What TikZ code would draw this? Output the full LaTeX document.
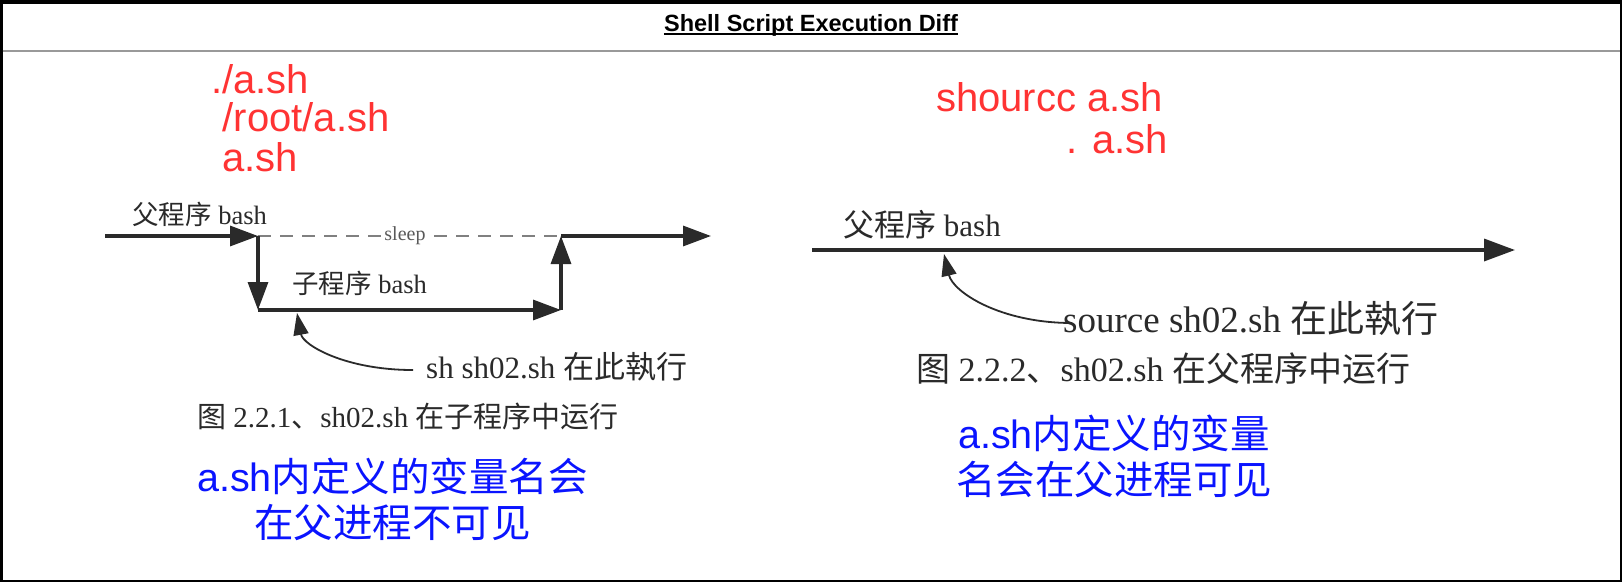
\documentclass[tikz,border=0pt]{standalone}
\usepackage{fontspec}
\setmainfont{Liberation Serif}
\newfontfamily\cjk{Noto Sans CJK SC}
\newfontfamily\hel{Liberation Sans}
\usetikzlibrary{arrows.meta}
\definecolor{redtxt}{HTML}{FF3333}
\definecolor{bluetxt}{HTML}{0A14FF}
\definecolor{sepgray}{HTML}{999999}
\definecolor{dashgray}{HTML}{808080}
\definecolor{ink}{HTML}{2A2A2A}
\newcommand{\pxs}[1]{\fontsize{#1}{#1}\selectfont}
\tikzset{
  redlbl/.style={anchor=base west, inner sep=0pt, text=redtxt, font=\hel\pxs{40}},
  bluelbl/.style={anchor=base, inner sep=0pt, text=bluetxt, font=\hel\pxs{39.5}},
  inklbl/.style={anchor=base west, inner sep=0pt, text=ink},
  flowL/.style={draw=ink, line width=3.2pt, -{Triangle[length=28pt,width=20pt]}},
  flowR/.style={draw=ink, line width=3.5pt, -{Triangle[length=31pt,width=22pt]}},
  dashline/.style={draw=dashgray, line width=2.8pt, dash pattern=on 13pt off 9pt},
  curveline/.style={draw=ink, line width=1.8pt, -{Triangle[length=22pt,width=15pt]}},
}
\begin{document}
\begin{tikzpicture}[x=1pt,y=-1pt]
\useasboundingbox (0,0) rectangle (1622,582);
\fill[white] (0,0) rectangle (1622,582);
% frame
\draw[black, line width=2.5pt] (1.25,1.25) rectangle (1620.75,580.75);
\draw[black, line width=3.5pt] (0,1.75) -- (1622,1.75);
\draw[sepgray, line width=2.5pt] (2.5,51) -- (1619.5,51);
% title
\node[anchor=base, inner sep=0pt, font=\hel\bfseries\pxs{23.5}] (title) at (811,31.7) {Shell Script Execution Diff};
\draw[line width=2pt] ([yshift=-2pt]title.base west) -- ([yshift=-2pt]title.base east);

% red command texts
\node[redlbl] (r1) at (211,93.3) {./a.sh};
\node[redlbl] (r2) at (222.5,131.7) {/root/a.sh};
\node[redlbl] (r3) at (222,171.7) {a.sh};
\node[redlbl] (r4) at (936,111.7) {shourcc a.sh};
\node[redlbl] (r5) at (1066.5,153.3) {. a.sh};

% blue notes
\node[bluelbl] (b1) at (392.5,491.7) {a.sh{\cjk 内定义的变量名会}};
\node[bluelbl] (b2) at (392.5,537.5) {{\cjk 在父进程不可见}};
\node[bluelbl] (b3) at (1114,448.3) {a.sh{\cjk 内定义的变量}};
\node[bluelbl] (b4) at (1114,494) {{\cjk 名会在父进程可见}};

% left diagram
\coordinate (L0) at (105,236);
\coordinate (L1) at (258,236);
\coordinate (L2) at (561,236);
\coordinate (L3) at (711,236);
\coordinate (B1) at (258,310);
\coordinate (B2) at (561,310);
\draw[flowL] (L0) -- (L1);
\draw[dashline] (L1) -- (L2);
\draw[flowL] (L2) -- (L3);
\draw[flowL] (L1) -- (B1);
\draw[flowL] (B1) -- (B2);
\draw[flowL] (B2) -- (L2);
\node[anchor=center, fill=white, inner xsep=1pt, inner ysep=0pt, text=black!65, font=\pxs{20}] (sleep) at (405,236) {sleep};
\node[inklbl, font=\pxs{26.5}] (pL) at (132,224) {{\cjk 父程序} bash};
\node[inklbl, font=\pxs{26.5}] (cL) at (292,293) {{\cjk 子程序} bash};
\node[inklbl, font=\pxs{31}] (shL) at (426,378) {sh sh02.sh {\cjk 在此執行}};
\node[inklbl, font=\pxs{29}] (capL) at (197,427) {{\cjk 图} 2.2.1{\cjk 、}sh02.sh {\cjk 在子程序中运行}};
\coordinate (cs) at (413,370);
\coordinate (ct) at (297,313);
\draw[curveline] (cs) .. controls (345,370) and (303,345) .. (ct);

% right diagram
\coordinate (R0) at (812,250);
\coordinate (R1) at (1515,250);
\draw[flowR] (R0) -- (R1);
\node[inklbl, font=\pxs{31}] (pR) at (843,236) {{\cjk 父程序} bash};
\node[inklbl, font=\pxs{37}] (shR) at (1063,332) {source sh02.sh {\cjk 在此執行}};
\node[inklbl, font=\pxs{34}] (capR) at (916,381.5) {{\cjk 图} 2.2.2{\cjk 、}sh02.sh {\cjk 在父程序中运行}};
\coordinate (rcs) at (1072,323);
\coordinate (rct) at (944,254);
\draw[curveline] (rcs) .. controls (1000,323) and (953,292) .. (rct);
\end{tikzpicture}
\end{document}
